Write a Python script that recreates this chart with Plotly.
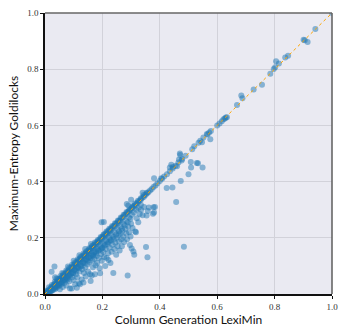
import plotly.graph_objects as go

# Dense band of points lying on / near the diagonal
band_x = [0.002,0.005,0.008,0.010,0.012,0.015,0.018,0.020,0.022,0.025,0.028,0.030,0.032,0.035,0.038,0.040,0.042,0.045,0.047,0.050,
          0.052,0.055,0.057,0.060,0.062,0.065,0.067,0.070,0.072,0.075,0.077,0.080,0.082,0.085,0.087,0.090,0.092,0.095,0.097,0.100,
          0.102,0.105,0.108,0.110,0.113,0.115,0.118,0.120,0.123,0.125,0.128,0.130,0.133,0.135,0.138,0.140,0.143,0.145,0.148,0.150,
          0.153,0.155,0.158,0.160,0.163,0.165,0.168,0.170,0.173,0.175,0.178,0.180,0.183,0.185,0.188,0.190,0.193,0.195,0.198,0.200,
          0.203,0.205,0.208,0.210,0.213,0.215,0.218,0.220,0.223,0.225,0.228,0.230,0.233,0.236,0.240,0.243,0.246,0.250,0.253,0.256,
          0.260,0.263,0.266,0.270,0.274,0.278,0.282,0.286,0.290,0.294,0.298,0.302,0.306,0.310,0.315,0.320,0.325,0.330,0.335,0.340,
          0.345,0.350,0.355,0.360,0.366,0.372,0.378,0.385,0.392,0.400,0.408,0.415,0.425,0.435,0.445,0.455,0.465,0.478,0.490]
band_y = [0.003,0.004,0.009,0.012,0.010,0.016,0.017,0.022,0.019,0.027,0.026,0.033,0.029,0.037,0.036,0.043,0.039,0.048,0.044,0.053,
          0.049,0.058,0.054,0.063,0.059,0.068,0.064,0.073,0.069,0.078,0.074,0.083,0.079,0.088,0.084,0.093,0.089,0.098,0.094,0.103,
          0.099,0.108,0.105,0.114,0.110,0.119,0.115,0.124,0.120,0.129,0.125,0.134,0.130,0.139,0.135,0.144,0.140,0.149,0.145,0.154,
          0.150,0.159,0.155,0.164,0.160,0.169,0.165,0.174,0.170,0.179,0.175,0.184,0.180,0.189,0.185,0.194,0.190,0.199,0.195,0.204,
          0.200,0.209,0.205,0.214,0.210,0.219,0.215,0.224,0.220,0.229,0.225,0.234,0.230,0.239,0.242,0.240,0.250,0.252,0.250,0.260,
          0.262,0.260,0.270,0.272,0.276,0.282,0.284,0.289,0.293,0.296,0.301,0.306,0.309,0.313,0.318,0.323,0.327,0.333,0.337,0.343,
          0.346,0.352,0.358,0.362,0.368,0.374,0.381,0.386,0.394,0.402,0.410,0.418,0.426,0.437,0.447,0.456,0.468,0.480,0.492]

# Second band just under the diagonal
band2_x = [0.006,0.012,0.017,0.023,0.027,0.033,0.037,0.043,0.047,0.053,0.058,0.063,0.068,0.073,0.078,0.083,0.088,0.093,0.098,0.103,
           0.108,0.113,0.118,0.123,0.128,0.133,0.138,0.143,0.148,0.153,0.158,0.163,0.168,0.173,0.178,0.183,0.188,0.193,0.198,0.203,
           0.208,0.213,0.218,0.223,0.228,0.233,0.238,0.243,0.248,0.253,0.258,0.263,0.268,0.273,0.278,0.283,0.288,0.293,0.298,0.303,
           0.310,0.318,0.326,0.334]
band2_y = [0.001,0.004,0.006,0.012,0.013,0.022,0.020,0.030,0.030,0.040,0.038,0.048,0.050,0.058,0.056,0.068,0.066,0.076,0.075,0.086,
           0.082,0.095,0.092,0.104,0.100,0.112,0.110,0.122,0.118,0.131,0.128,0.140,0.136,0.150,0.145,0.160,0.155,0.170,0.164,0.180,
           0.175,0.190,0.184,0.200,0.193,0.210,0.203,0.220,0.212,0.230,0.222,0.240,0.232,0.250,0.245,0.260,0.255,0.272,0.268,0.282,
           0.290,0.300,0.306,0.318]

# Upper edge of the band
band3_x = [0.004,0.014,0.024,0.034,0.044,0.054,0.064,0.074,0.084,0.094,0.104,0.114,0.124,0.134,0.144,0.154,0.164,0.174,0.184,0.194,
           0.204,0.214,0.224,0.234,0.244,0.254,0.264,0.274,0.284,0.294,0.304,0.314,0.324,0.334,0.344,0.354]
band3_y = [0.012,0.024,0.032,0.044,0.053,0.064,0.072,0.084,0.093,0.104,0.112,0.124,0.133,0.144,0.152,0.163,0.172,0.183,0.192,0.203,
           0.212,0.222,0.232,0.242,0.252,0.262,0.272,0.282,0.292,0.302,0.312,0.322,0.332,0.341,0.352,0.360]

# Points scattered below the diagonal
below_x = [0.010,0.015,0.020,0.025,0.028,0.032,0.035,0.038,0.040,0.043,0.045,0.048,0.050,0.052,0.055,0.058,0.060,0.062,0.065,0.068,
           0.070,0.072,0.075,0.078,0.080,0.083,0.085,0.087,0.090,0.093,0.095,0.098,0.100,
           0.103,0.105,0.108,0.110,0.111,0.113,0.115,0.118,0.120,0.122,0.125,0.128,0.130,0.132,0.134,0.136,0.138,0.140,0.142,0.145,
           0.148,0.150,0.152,0.155,0.157,0.159,0.160,0.163,0.165,0.167,0.168,0.170,0.172,0.174,0.176,0.178,0.180,0.182,0.185,0.188,
           0.190,0.192,0.194,0.196,0.198,0.200,
           0.203,0.206,0.208,0.210,0.212,0.215,0.218,0.220,0.221,0.223,0.225,0.228,0.230,0.232,0.235,0.238,0.240,0.242,0.245,0.248,
           0.250,0.253,0.256,0.258,0.260,0.263,0.266,0.268,0.270,0.273,0.276,0.280,0.283,0.286,0.288,0.290,0.293,0.296,0.298,0.300,
           0.302,0.305,0.308,0.311,0.314,0.317,0.320,0.325,0.330,0.335,0.340,0.345,0.352,0.354,0.357,0.358,0.362,0.376,0.378,0.380,
           0.383,
           0.424,0.444,0.457,0.473,0.484,0.500,0.509,0.549,0.508,0.529,0.533,0.576,0.445,0.435,0.460,0.467,0.471,0.476,0.380,0.405]
below_y = [0.004,0.008,0.012,0.015,0.020,0.022,0.018,0.028,0.030,0.025,0.035,0.038,0.030,0.017,0.042,0.036,0.045,0.025,0.050,0.040,
           0.055,0.048,0.030,0.060,0.052,0.065,0.045,0.020,0.070,0.020,0.060,0.075,0.050,
           0.085,0.035,0.070,0.092,0.022,0.060,0.095,0.038,0.080,0.035,0.100,0.052,0.088,0.110,0.041,0.075,0.118,0.095,0.062,0.125,
           0.105,0.080,0.130,0.112,0.070,0.046,0.135,0.066,0.118,0.095,0.139,0.145,0.125,0.070,0.102,0.150,0.135,0.110,0.155,0.128,
           0.092,0.074,0.160,0.142,0.118,0.165,
           0.150,0.132,0.172,0.100,0.160,0.128,0.178,0.145,0.121,0.185,0.165,0.110,0.190,0.150,0.175,0.075,0.195,0.160,0.182,0.140,
           0.200,0.170,0.210,0.188,0.155,0.215,0.195,0.170,0.225,0.205,0.185,0.232,0.215,0.195,0.066,0.240,0.220,0.174,0.205,0.250,
           0.162,0.235,0.151,0.140,0.222,0.220,0.270,0.255,0.285,0.300,0.280,0.310,0.167,0.279,0.131,0.295,0.308,0.286,0.309,0.290,
           0.310,
           0.377,0.379,0.327,0.402,0.168,0.426,0.450,0.450,0.470,0.466,0.465,0.551,0.452,0.450,0.455,0.479,0.495,0.475,0.412,0.412]

# Points slightly above the diagonal
above_x = [0.023,0.033,0.035,0.040,0.060,0.080,0.100,0.120,0.140,0.160,0.197,0.205,0.285,0.290,0.300,0.340,0.440,0.470]
above_y = [0.079,0.098,0.060,0.055,0.075,0.098,0.118,0.138,0.160,0.178,0.255,0.256,0.320,0.315,0.335,0.360,0.460,0.500]

# Upper part of the diagonal
upper_x = [0.541,0.547,0.535,0.520,0.513,0.552,0.564,0.578,0.572,0.566,0.600,0.608,0.616,0.622,0.627,0.634,0.630,0.669,0.684,0.688,
           0.727,0.756,0.785,0.797,0.802,0.805,0.815,0.837,0.847,0.901,0.905,0.915,0.942,1.000]
upper_y = [0.545,0.540,0.538,0.526,0.515,0.557,0.569,0.580,0.575,0.568,0.600,0.607,0.615,0.622,0.625,0.629,0.628,0.673,0.706,0.697,
           0.728,0.745,0.784,0.801,0.807,0.828,0.820,0.842,0.848,0.905,0.903,0.897,0.943,1.000]

xs = band_x + band2_x + band3_x + below_x + above_x + upper_x
ys = band_y + band2_y + band3_y + below_y + above_y + upper_y

diag = [0.0, 1.0]
tick_vals = [0.0, 0.2, 0.4, 0.6, 0.8, 1.0]
tick_text = ["0.0", "0.2", "0.4", "0.6", "0.8", "1.0"]

fig = go.Figure()
fig.add_trace(go.Scatter(
    x=xs, y=ys, mode="markers",
    marker=dict(size=6, color="rgba(31,119,180,0.5)", line=dict(width=0)),
    showlegend=False, hoverinfo="skip"))
fig.add_trace(go.Scatter(
    x=diag, y=diag, mode="lines",
    line=dict(color="#FFA500", width=1, dash="dot"),
    showlegend=False, hoverinfo="skip"))

axis_common = dict(
    range=[0, 1], tickvals=tick_vals, ticktext=tick_text,
    showgrid=True, gridcolor="#d2d2da", gridwidth=1,
    zeroline=False, showline=True, linecolor="#111111", linewidth=1.5,
    ticks="outside", ticklen=3, tickwidth=1, tickcolor="#111111",
    tickfont=dict(family="Liberation Serif, DejaVu Serif, serif", size=9, color="#333333"),
)

fig.update_layout(
    width=346, height=332,
    margin=dict(l=45, r=14, t=8, b=37),
    paper_bgcolor="white", plot_bgcolor="#EAEAF2",
    xaxis=dict(**axis_common,
               title=dict(text="Column Generation LexiMin", standoff=4,
                          font=dict(family="Lato, Open Sans, sans-serif", size=12, color="#111111"))),
    yaxis=dict(**axis_common,
               title=dict(text="Maximum-Entropy Goldilocks", standoff=6,
                          font=dict(family="Lato, Open Sans, sans-serif", size=12, color="#111111"))),
    shapes=[
        dict(type="line", xref="paper", yref="paper", x0=0, x1=1, y0=1, y1=1,
             line=dict(color="#666666", width=1.6)),
        dict(type="line", xref="paper", yref="paper", x0=1, x1=1, y0=0, y1=1,
             line=dict(color="#666666", width=1.6)),
    ],
)

fig.write_html("out.html")
